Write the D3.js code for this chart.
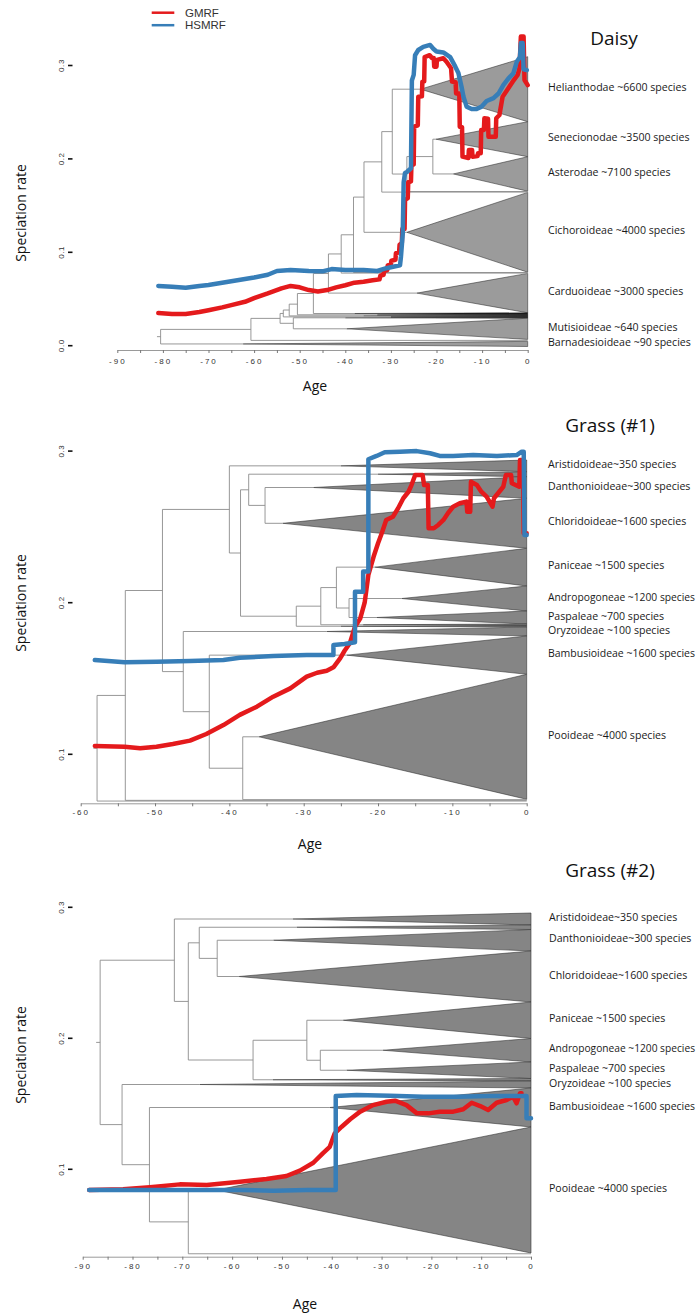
<!DOCTYPE html>
<html>
<head>
<meta charset="utf-8">
<script src="https://cdn.jsdelivr.net/npm/d3@7"></script>
<style>
  body { margin: 0; background: #fff; }
  svg { display: block; }
</style>
</head>
<body>
<svg id="chart" width="700" height="1314"></svg>
<script>
// ---------------- data ----------------
const seriesNames = ["GMRF", "HSMRF"];

// Daisy (Asteraceae): clades listed top to bottom; span = relative tip-space, crown = crown age (null = single lineage)
const daisyCladeNames = ["Helianthodae ~6600 species", "Senecionodae ~3500 species", "Asterodae ~7100 species", "", "",
  "Cichoroideae ~4000 species", "", "", "Carduoideae ~3000 species", "", "", "", "", "",
  "Mutisioideae ~640 species", "", "Barnadesioideae ~90 species"];
const daisyCladeSpans = [65, 35, 34.5, 0.6, 0.6, 79.8, 0.6, 0.6, 39.4, 1.4, 1.2, 1.0, 1.0, 0.8, 21.2, 2.0, 5.1];
const daisyCladeCrowns = [-23.5, -20.1, -16.3, null, null, -26.5, null, null, -24.3, -38, -33, -36, -30, -40, -39.7, null, -62.4];
const daisyDarkClades = [9, 10, 11, 12, 13];
// [node age, child, child]; integers are clade indices
const daisyTopology =
  [-80.5,
    [-60.7,
      [-54.3,
        [-53.6,
          [-52.3,
            [-50.5,
              [-47.0,
                [-43.7,
                  [-40.9,
                    [-38.2,
                      [-35.9,
                        [-32.0,
                          [-29.7, 0, [-26.5, [-20.8, 1, 2], 3]],
                        4],
                      5],
                    6],
                  7],
                8],
              9],
            10],
          11],
        12],
        [-51.4, 13, 14]],
      15],
    16];
const daisyStemAge = -81.3;
const daisyAgeTicks = [-90, -80, -70, -60, -50, -40, -30, -20, -10, 0];
const daisyRateTicks = [0.0, 0.1, 0.2, 0.3];
const daisyGMRF = [[-81.0,0.035],[-78,0.034],[-75,0.034],[-72,0.036],[-70,0.038],[-67,0.041],[-65,0.0435],[-62,0.047],
  [-60,0.051],[-57,0.056],[-54,0.0614],[-52,0.064],[-50,0.0625],[-48,0.0596],[-46,0.058],[-44,0.0596],[-42,0.0625],
  [-40,0.0647],[-38,0.0675],[-36,0.0685],[-34,0.070],[-32.5,0.071],[-32.3,0.075],[-31.6,0.076],[-31.5,0.080],
  [-30.8,0.081],[-30.7,0.086],[-30,0.087],[-29.9,0.091],[-29,0.092],[-28.9,0.099],[-28.2,0.10],[-28.1,0.108],
  [-27.6,0.11],[-27.5,0.125],[-27.0,0.125],[-26.9,0.156],[-26.3,0.158],[-26.2,0.175],[-25.6,0.176],[-25.5,0.193],
  [-25.0,0.194],[-24.9,0.2345],[-24.1,0.236],[-24.0,0.2666],[-23.2,0.267],[-23.1,0.2827],[-22.7,0.283],[-22.6,0.309],
  [-21.5,0.311],[-21.0,0.308],[-20.6,0.308],[-20.5,0.2987],[-20.0,0.2987],[-19.9,0.306],[-18.5,0.3077],[-17.8,0.304],
  [-16.8,0.297],[-16.6,0.2827],[-15.8,0.282],[-15.7,0.27],[-15.0,0.27],[-14.9,0.2345],[-14.4,0.234],[-14.3,0.2024],
  [-13.0,0.201],[-12.9,0.2095],[-12.2,0.2095],[-12.1,0.2024],[-11.0,0.203],[-10.9,0.206],[-10.3,0.206],[-10.2,0.231],
  [-9.6,0.231],[-9.5,0.2435],[-8.7,0.243],[-8.6,0.2238],[-7.0,0.2238],[-6.9,0.2435],[-6.2,0.247],[-5.5,0.2666],
  [-4.5,0.2738],[-3.3,0.2827],[-2.2,0.29],[-1.8,0.297],[-1.5,0.331],[-0.9,0.331],[-0.7,0.2845],[0,0.279]];
const daisyHSMRF = [[-81,0.064],[-78,0.063],[-75,0.062],[-72,0.064],[-70,0.065],[-65,0.069],[-60,0.073],[-57,0.076],
  [-55,0.080],[-52,0.081],[-48,0.080],[-45,0.0796],[-43,0.082],[-40,0.081],[-36,0.081],[-33,0.080],[-31,0.083],
  [-29,0.085],[-28,0.086],[-27.8,0.095],[-27.4,0.12],[-27.2,0.175],[-26.9,0.185],[-26.5,0.186],[-25.6,0.19],
  [-25.4,0.284],[-25.0,0.29],[-24.7,0.311],[-24.0,0.3166],[-22.9,0.32],[-21.4,0.322],[-20.7,0.318],[-20.0,0.315],
  [-18.5,0.314],[-17.0,0.309],[-15.9,0.299],[-15.2,0.292],[-14.5,0.277],[-14.1,0.267],[-13.4,0.256],[-12.3,0.2535],
  [-11.2,0.2535],[-10.1,0.256],[-9.0,0.262],[-7.5,0.265],[-6.4,0.27],[-5.35,0.279],[-4.25,0.286],[-3.15,0.2916],
  [-2.4,0.304],[-1.7,0.309],[-1.5,0.324],[-1.1,0.324],[-0.9,0.296],[-0.2,0.295]];

// Grass, first tree
const grass1CladeNames = ["Aristidoideae~350 species", "", "Danthonioideae~300 species", "Chloridoideae~1600 species",
  "Paniceae ~1500 species", "Andropogoneae ~1200 species", "Paspaleae ~700 species", "", "",
  "Oryzoideae ~100 species", "Bambusioideae ~1600 species", "Pooideae ~4000 species", "", "", ""];
const grass1CladeSpans = [11.7, 5, 21.6, 50, 37.7, 25, 13, 1.5, 1.5, 9, 38.3, 125, 0.7, 0.7, 0.7];
const grass1CladeCrowns = [-25, -20, -28.7, -32.8, -20.4, -16.8, -20.2, -22, -25, -26.9, -24.2, -36.0, null, null, null];
const grass1Topology = [-57.8, [-54.0, [-49.0,
    [-40.0, 0, [-38.5, [-37.4, 1, [-35.2, 2, 3]], [-31.0, [-27.7, [-25.6, 4, [-23.9, 5, 6]], 7], 8]]],
    [-46.2, 9, [-42.7, 10, [-38.2, 11, 12]]]], 13], 14];
const grass1StemAge = -58.3;
const grass1AgeTicks = [-60, -50, -40, -30, -20, -10, 0];
const grass1RateTicks = [0.1, 0.2, 0.3];
const grass1GMRF = [[-58.1,0.1055],[-54.1,0.105],[-52.0,0.104],[-49.8,0.105],[-47.6,0.1068],[-45.3,0.109],[-43.1,0.1134],
  [-40.8,0.1193],[-38.6,0.126],[-36.3,0.1314],[-34.1,0.138],[-31.8,0.1435],[-29.6,0.1512],[-28.2,0.1538],[-26.9,0.1551],
  [-26.0,0.1574],[-25.1,0.1633],[-24.5,0.1683],[-23.8,0.1732],[-23.1,0.1842],[-22.4,0.1895],[-21.8,0.2],[-21.3,0.2183],
  [-20.6,0.2303],[-20.0,0.2392],[-19.5,0.2458],[-18.9,0.2546],[-18.0,0.2567],[-17.3,0.2623],[-16.6,0.2689],
  [-15.9,0.2732],[-15.5,0.2776],[-15.0,0.2842],[-14.0,0.2842],[-13.8,0.2776],[-13.3,0.2776],[-13.2,0.2491],
  [-12.5,0.2491],[-11.9,0.2513],[-11.2,0.2546],[-10.6,0.259],[-9.9,0.2633],[-9.0,0.2656],[-8.1,0.2667],[-8.0,0.26],
  [-7.6,0.26],[-7.5,0.2798],[-6.7,0.2776],[-6.1,0.2732],[-5.4,0.27],[-4.6,0.2633],[-4.4,0.2689],[-3.15,0.2765],
  [-2.8,0.2842],[-2.1,0.2842],[-2.0,0.2788],[-1.0,0.2765],[-0.9,0.2941],[-0.5,0.2941],[-0.4,0.2458],[0,0.2458]];
const grass1HSMRF = [[-58.1,0.1622],[-54.1,0.1607],[-49.8,0.161],[-45.3,0.1615],[-40.8,0.1622],[-38.6,0.1637],
  [-34.1,0.1648],[-29.6,0.1655],[-26.0,0.1655],[-26.0,0.1721],[-24.5,0.1728],[-23.1,0.1739],[-23.1,0.2073],
  [-22.0,0.2073],[-22.0,0.2205],[-21.3,0.2205],[-21.3,0.2946],[-20.2,0.2968],[-19.1,0.2992],[-17.05,0.2996],
  [-14.8,0.300],[-13.0,0.2986],[-11.7,0.2968],[-9.9,0.2968],[-7.2,0.2974],[-4.0,0.2968],[-1.35,0.2974],
  [-0.67,0.2996],[-0.4,0.2996],[-0.3,0.2447],[0,0.2447]];

// Grass, second tree
const grass2CladeNames = ["Aristidoideae~350 species", "", "Danthonioideae~300 species", "Chloridoideae~1600 species",
  "Paniceae ~1500 species", "Andropogoneae ~1200 species", "Paspaleae ~700 species", "",
  "Oryzoideae ~100 species", "Bambusioideae ~1600 species", "Pooideae ~4000 species", ""];
const grass2CladeSpans = [12, 4.5, 21.5, 51, 36.5, 23.5, 16.5, 2.5, 7, 39, 126, 1.5];
const grass2CladeCrowns = [-47.8, -47, -51.7, -58.6, -37.7, -29.7, -37.0, -51.8, -66.5, -40.4, -63.1, null];
const grass2Topology = [-86.5,
  [-71.6, 0, [-68.8, [-66.6, 1, [-63.0, 2, 3]], [-55.8, [-45.0, 4, [-42.3, 5, 6]], 7]]],
  [-82.1, 8, [-76.6, 9, [-68.8, 10, 11]]]];
const grass2StemAge = -87.3;
const grass2AgeTicks = [-90, -80, -70, -60, -50, -40, -30, -20, -10, 0];
const grass2RateTicks = [0.1, 0.2, 0.3];
const grass2GMRF = [[-88.7,0.0842],[-81.9,0.0847],[-76.5,0.0863],[-70.5,0.0885],[-65.1,0.088],[-58.4,0.0905],
  [-53.1,0.0926],[-49.1,0.0949],[-46.4,0.099],[-43.7,0.105],[-41.8,0.1122],[-40.4,0.1172],[-39.4,0.1275],
  [-38.0,0.1325],[-36.3,0.1382],[-34.3,0.144],[-31.7,0.149],[-29.0,0.1516],[-27.3,0.1524],[-25.0,0.149],
  [-22.9,0.1427],[-20.6,0.1427],[-18.3,0.144],[-15.6,0.144],[-13.6,0.1458],[-11.9,0.1508],[-10.2,0.1483],
  [-8.6,0.1453],[-6.9,0.1508],[-4.9,0.1529],[-3.6,0.1554],[-2.9,0.1504],[-2.2,0.158],[-1.9,0.158]];
const grass2HSMRF = [[-88.7,0.0842],[-78.5,0.0842],[-68.5,0.0842],[-58.4,0.0842],[-51.7,0.0837],[-45.0,0.0842],
  [-39.2,0.0842],[-39.2,0.156],[-35.0,0.1567],[-28.3,0.1562],[-21.6,0.1554],[-14.9,0.1554],[-8.2,0.156],
  [-0.9,0.156],[-0.9,0.139],[0,0.139]];

// ---------------- layout & style ----------------
const colors = { GMRF: "#e41a1c", HSMRF: "#377eb8" };
const panels = [
  { title: "Daisy", names: daisyCladeNames, spans: daisyCladeSpans, crowns: daisyCladeCrowns, dark: daisyDarkClades,
    topology: daisyTopology, stemAge: daisyStemAge, ageTicks: daisyAgeTicks, rateTicks: daisyRateTicks,
    series: { GMRF: daisyGMRF, HSMRF: daisyHSMRF },
    xDomain: [-90, 0], xRange: [117.3, 527.7], yDomain: [0, 0.1], yRange: [345.7, 252.3],
    axisY: 350, tickLabelDy: 11.5, treeRange: [56.7, 346.5], triFill: "#9b9b9b",
    titleX: 614, titleY: 38, labelX: 548, yTitleY: 213, ageX: 315, ageY: 385 },
  { title: "Grass (#1)", names: grass1CladeNames, spans: grass1CladeSpans, crowns: grass1CladeCrowns, dark: [],
    topology: grass1Topology, stemAge: grass1StemAge, ageTicks: grass1AgeTicks, rateTicks: grass1RateTicks,
    series: { GMRF: grass1GMRF, HSMRF: grass1HSMRF },
    xDomain: [-60, 0], xRange: [80.7, 526.7], yDomain: [0.1, 0.2], yRange: [754.3, 602.7],
    axisY: 803.3, tickLabelDy: 9, treeRange: [460, 801.4], triFill: "#858585",
    titleX: 610, titleY: 425, labelX: 548, yTitleY: 603, ageX: 310, ageY: 843 },
  { title: "Grass (#2)", names: grass2CladeNames, spans: grass2CladeSpans, crowns: grass2CladeCrowns, dark: [],
    topology: grass2Topology, stemAge: grass2StemAge, ageTicks: grass2AgeTicks, rateTicks: grass2RateTicks,
    series: { GMRF: grass2GMRF, HSMRF: grass2HSMRF },
    xDomain: [-90, 0], xRange: [82.7, 531], yDomain: [0.1, 0.2], yRange: [1169.3, 1038.3],
    axisY: 1256.7, tickLabelDy: 9.5, treeRange: [913, 1254.5], triFill: "#858585",
    titleX: 610, titleY: 870, labelX: 549, yTitleY: 1055, ageX: 305, ageY: 1303 }
];

const width = 700;
const svg = d3.select("#chart");
const textFont = "'Open Sans', 'DejaVu Sans', sans-serif";
const tickFont = "'Liberation Sans', Arial, sans-serif";

panels.forEach(p => {
  const g = svg.append("g");
  const x = d3.scaleLinear().domain(p.xDomain).range(p.xRange);
  const y = d3.scaleLinear().domain(p.yDomain).range(p.yRange);
  const total = d3.sum(p.spans);
  const yT = d3.scaleLinear().domain([0, total]).range(p.treeRange);

  // ---- tree layout: cumulative tip space, internal nodes at the midpoint of their children
  let acc = 0;
  const tips = p.spans.map(s => { const lo = acc; acc += s; return { lo, hi: acc, mid: lo + s / 2 }; });
  const branches = [];
  function place(n) {
    if (typeof n === "number") {
      return { y: tips[n].mid, age: p.crowns[n] === null ? 0 : p.crowns[n] };
    }
    const [age, a, b] = n;
    const pa = place(a), pb = place(b);
    branches.push([[age, pa.y], [age, pb.y]]);
    branches.push([[age, pa.y], [pa.age, pa.y]]);
    branches.push([[age, pb.y], [pb.age, pb.y]]);
    return { y: (pa.y + pb.y) / 2, age };
  }
  const root = place(p.topology);
  branches.push([[p.stemAge, root.y], [root.age, root.y]]);

  const pt = d => [x(d[0]), yT(d[1])];
  const treeG = g.append("g");
  // collapsed clades as triangles
  treeG.selectAll("path.clade")
    .data(tips.map((t, i) => ({ ...t, i, crown: p.crowns[i] })).filter(t => t.crown !== null))
    .join("path")
    .attr("class", "clade")
    .attr("d", t => "M" + [pt([t.crown, t.mid]), pt([0, t.lo]), pt([0, t.hi])].join("L") + "Z")
    .attr("fill", t => p.dark.includes(t.i) ? "#111" : p.triFill)
    .attr("stroke", "#2a2a2a")
    .attr("stroke-width", 0.55)
    .attr("stroke-linejoin", "miter");
  // branches
  treeG.selectAll("line.branch")
    .data(branches)
    .join("line")
    .attr("class", "branch")
    .attr("x1", d => x(d[0][0])).attr("y1", d => yT(d[0][1]))
    .attr("x2", d => x(d[1][0])).attr("y2", d => yT(d[1][1]))
    .attr("stroke", "#8c8c8c")
    .attr("stroke-width", 0.9);

  // clade labels, squeezed when they would run past the right edge
  const room = width - p.labelX - 5;
  g.selectAll("text.clade-label")
    .data(tips.map((t, i) => ({ ...t, name: p.names[i] })).filter(t => t.name))
    .join("text")
    .attr("class", "clade-label")
    .attr("x", p.labelX)
    .attr("y", t => yT(t.mid) - 2)
    .attr("dominant-baseline", "central")
    .attr("font-family", textFont)
    .attr("font-size", 10.6)
    .attr("fill", "#1a1a1a")
    .text(t => t.name)
    .each(function () {
      if (this.getComputedTextLength() > room) {
        d3.select(this).attr("textLength", room).attr("lengthAdjust", "spacingAndGlyphs");
      }
    });

  // ---- x axis (age)
  const minor = d3.range(p.xDomain[0], p.xDomain[1] + 0.1, 5);
  const xAxis = d3.axisBottom(x)
    .tickValues(minor)
    .tickSize(3)
    .tickSizeOuter(0)
    .tickFormat(v => p.ageTicks.includes(v) ? String(v) : "");
  const ax = g.append("g").attr("transform", `translate(0,${p.axisY})`).call(xAxis);
  ax.select(".domain").attr("stroke", "#9a9a9a").attr("stroke-width", 1);
  ax.selectAll(".tick line").attr("stroke", "#777");
  ax.selectAll(".tick text")
    .attr("y", p.tickLabelDy)
    .attr("dy", "0.35em")
    .attr("font-family", tickFont)
    .attr("font-size", 8)
    .attr("letter-spacing", 2)
    .attr("fill", "#333");

  // ---- y axis (rate): short dash ticks with rotated labels
  const yt = g.append("g");
  yt.selectAll("line")
    .data(p.rateTicks)
    .join("line")
    .attr("x1", 68).attr("x2", 72.5)
    .attr("y1", d => y(d)).attr("y2", d => y(d))
    .attr("stroke", "#111").attr("stroke-width", 1.6);
  yt.selectAll("text")
    .data(p.rateTicks)
    .join("text")
    .attr("transform", d => `translate(61,${y(d)}) rotate(-90)`)
    .attr("text-anchor", "middle")
    .attr("dominant-baseline", "central")
    .attr("font-family", tickFont)
    .attr("font-size", 8)
    .attr("letter-spacing", 0.6)
    .attr("fill", "#333")
    .text(d3.format(".1f"));

  // ---- rate curves
  const line = d3.line().x(d => x(d[0])).y(d => y(d[1]));
  seriesNames.forEach(name => {
    g.append("path")
      .datum(p.series[name])
      .attr("d", line)
      .attr("fill", "none")
      .attr("stroke", colors[name])
      .attr("stroke-width", 4.5)
      .attr("stroke-linejoin", "round")
      .attr("stroke-linecap", "round");
  });

  // ---- titles
  g.append("text")
    .attr("x", p.titleX).attr("y", p.titleY)
    .attr("text-anchor", "middle").attr("dominant-baseline", "central")
    .attr("font-family", textFont).attr("font-size", 19).attr("fill", "#111")
    .text(p.title);
  g.append("text")
    .attr("transform", `translate(20,${p.yTitleY}) rotate(-90)`)
    .attr("text-anchor", "middle").attr("dominant-baseline", "central")
    .attr("font-family", textFont).attr("font-size", 14).attr("fill", "#111")
    .text("Speciation rate");
  g.append("text")
    .attr("x", p.ageX).attr("y", p.ageY)
    .attr("text-anchor", "middle").attr("dominant-baseline", "central")
    .attr("font-family", textFont).attr("font-size", 14).attr("fill", "#111")
    .text("Age");
});

// ---- legend
const legend = svg.append("g");
seriesNames.forEach((name, i) => {
  const ly = 12.7 + i * 12.5;
  legend.append("line")
    .attr("x1", 151.7).attr("x2", 174.3).attr("y1", ly).attr("y2", ly)
    .attr("stroke", colors[name]).attr("stroke-width", 2.5);
  legend.append("text")
    .attr("x", 185).attr("y", ly)
    .attr("dominant-baseline", "central")
    .attr("font-family", tickFont).attr("font-size", 11.5).attr("fill", "#333")
    .text(name);
});
</script>
</body>
</html>
